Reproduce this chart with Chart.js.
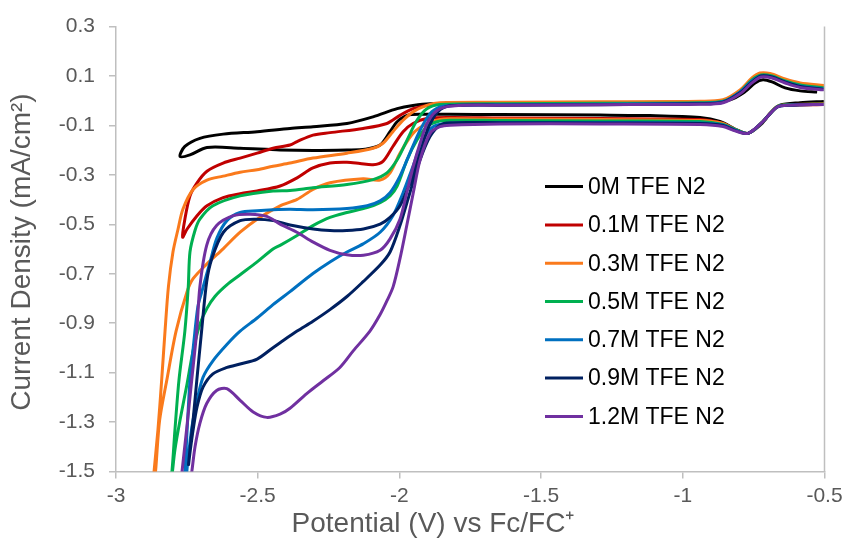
<!DOCTYPE html>
<html><head><meta charset="utf-8">
<script src="https://cdn.jsdelivr.net/npm/chart.js@4.4.0/dist/chart.umd.min.js"></script>
<style>html,body{margin:0;padding:0;background:#fff;}#wrap{width:852px;height:547px;}</style>
</head><body><div id="wrap"><canvas id="c" width="852" height="547"></canvas></div>
<script>
const seriesLabels = ['0M TFE N2','0.1M TFE N2','0.3M TFE N2','0.5M TFE N2','0.7M TFE N2','0.9M TFE N2','1.2M TFE N2'];
const seriesColors = ['#000000','#C00000','#FA7A1C','#00B050','#0070C0','#002060','#7030A0'];
const xTicks = [-3,-2.5,-2,-1.5,-1,-0.5];
const xTickLabels = ['-3','-2.5','-2','-1.5','-1','-0.5'];
const yTicks = [-1.5,-1.3,-1.1,-0.9,-0.7,-0.5,-0.3,-0.1,0.1,0.3];
const yTickLabels = ['-1.5','-1.3','-1.1','-0.9','-0.7','-0.5','-0.3','-0.1','0.1','0.3'];
const xAxisTitle = 'Potential (V) vs Fc/FC\u207A';
const yAxisTitle = 'Current Density (mA/cm\u00B2)';

const potential_0M = [-0.502,-0.586,-0.657,-0.692,-0.728,-0.770,-0.805,-0.869,-0.939,-1.116,-1.292,-1.645,-1.821,-1.917,-1.973,-2.008,-2.033,-2.068,-2.121,-2.185,-2.305,-2.421,-2.562,-2.679,-2.739,-2.774,
  -2.757,-2.704,-2.622,-2.502,-2.386,-2.305,-2.185,-2.093,-2.008,-1.952,-1.892,-1.645,-1.292,-0.939,-0.833,-0.781,-0.745,-0.717,-0.685,-0.639,-0.586,-0.526];
const current_0M = [-0.003,-0.008,-0.018,-0.052,-0.100,-0.132,-0.120,-0.084,-0.068,-0.060,-0.058,-0.056,-0.055,-0.055,-0.059,-0.085,-0.125,-0.179,-0.196,-0.199,-0.201,-0.199,-0.192,-0.189,-0.219,-0.225,
  -0.185,-0.152,-0.135,-0.125,-0.112,-0.105,-0.092,-0.065,-0.032,-0.019,-0.012,-0.010,-0.008,-0.006,0.004,0.036,0.072,0.085,0.076,0.052,0.040,0.035];

const potential_01M = [-0.502,-0.622,-0.668,-0.717,-0.770,-0.816,-0.858,-0.939,-1.292,-1.645,-1.821,-1.903,-1.952,-1.987,-2.023,-2.058,-2.093,-2.139,-2.185,-2.245,-2.305,-2.361,-2.421,-2.502,-2.562,-2.622,-2.679,-2.714,-2.749,-2.765,
  -2.757,-2.739,-2.714,-2.679,-2.622,-2.562,-2.502,-2.446,-2.386,-2.361,-2.305,-2.245,-2.128,-2.044,-1.998,-1.952,-1.903,-1.857,-1.645,-1.292,-0.939,-0.858,-0.798,-0.763,-0.728,-0.692,-0.668,-0.597,-0.502];
const current_01M = [-0.015,-0.018,-0.024,-0.084,-0.132,-0.116,-0.092,-0.076,-0.072,-0.070,-0.068,-0.072,-0.092,-0.125,-0.185,-0.245,-0.259,-0.254,-0.249,-0.252,-0.272,-0.312,-0.345,-0.365,-0.376,-0.392,-0.425,-0.465,-0.519,-0.552,
  -0.479,-0.385,-0.332,-0.285,-0.252,-0.232,-0.212,-0.192,-0.179,-0.165,-0.139,-0.129,-0.112,-0.092,-0.059,-0.032,-0.019,-0.012,-0.010,-0.008,-0.004,0.000,0.036,0.080,0.106,0.100,0.088,0.068,0.056];

const potential_03M = [-0.502,-0.622,-0.668,-0.717,-0.770,-0.816,-0.858,-0.939,-1.292,-1.645,-1.821,-1.857,-1.903,-1.952,-1.998,-2.033,-2.068,-2.128,-2.245,-2.305,-2.361,-2.421,-2.502,-2.562,-2.622,-2.679,-2.728,-2.749,-2.788,-2.821,-2.846,-2.859,-2.866,-2.870,
  -2.871,-2.866,-2.852,-2.839,-2.827,-2.815,-2.799,-2.781,-2.764,-2.728,-2.679,-2.622,-2.562,-2.502,-2.446,-2.386,-2.305,-2.185,-2.093,-2.058,-2.023,-1.987,-1.952,-1.903,-1.857,-1.645,-1.292,-0.939,-0.858,-0.798,-0.756,-0.728,-0.692,-0.639,-0.586,-0.502];
const current_03M = [-0.012,-0.016,-0.024,-0.084,-0.132,-0.116,-0.092,-0.080,-0.076,-0.074,-0.073,-0.076,-0.092,-0.132,-0.212,-0.292,-0.321,-0.316,-0.332,-0.359,-0.399,-0.425,-0.479,-0.532,-0.599,-0.660,-0.720,-0.772,-0.932,-1.132,-1.292,-1.480,-1.572,-1.650,
  -1.590,-1.504,-1.332,-1.132,-0.932,-0.752,-0.612,-0.519,-0.439,-0.359,-0.321,-0.305,-0.289,-0.279,-0.265,-0.252,-0.232,-0.212,-0.192,-0.172,-0.125,-0.079,-0.045,-0.019,-0.008,-0.006,-0.004,-0.002,0.004,0.044,0.092,0.112,0.110,0.088,0.072,0.062];

const potential_05M = [-0.502,-0.622,-0.668,-0.717,-0.770,-0.816,-0.858,-0.939,-1.292,-1.645,-1.821,-1.867,-1.903,-1.938,-1.973,-2.008,-2.033,-2.068,-2.114,-2.185,-2.245,-2.305,-2.361,-2.421,-2.446,-2.502,-2.562,-2.608,-2.651,-2.679,-2.704,-2.728,-2.749,-2.774,-2.792,-2.802,-2.813,
  -2.809,-2.802,-2.792,-2.778,-2.757,-2.745,-2.739,-2.721,-2.704,-2.658,-2.562,-2.446,-2.386,-2.305,-2.185,-2.093,-2.044,-2.008,-1.973,-1.938,-1.903,-1.857,-1.645,-1.292,-0.939,-0.858,-0.798,-0.756,-0.724,-0.685,-0.639,-0.586,-0.502];
const current_05M = [-0.014,-0.016,-0.024,-0.084,-0.132,-0.116,-0.096,-0.084,-0.082,-0.080,-0.079,-0.085,-0.105,-0.159,-0.239,-0.345,-0.385,-0.412,-0.432,-0.452,-0.472,-0.505,-0.545,-0.585,-0.600,-0.652,-0.704,-0.744,-0.792,-0.840,-0.904,-1.012,-1.144,-1.292,-1.412,-1.512,-1.612,
  -1.552,-1.492,-1.332,-1.132,-0.932,-0.752,-0.612,-0.524,-0.479,-0.425,-0.385,-0.365,-0.363,-0.352,-0.339,-0.319,-0.292,-0.239,-0.159,-0.079,-0.032,-0.015,-0.012,-0.010,-0.008,-0.002,0.036,0.084,0.104,0.100,0.080,0.064,0.052];

const potential_07M = [-0.502,-0.622,-0.668,-0.717,-0.770,-0.816,-0.858,-0.939,-1.292,-1.645,-1.832,-1.881,-1.917,-1.952,-1.987,-2.023,-2.068,-2.128,-2.185,-2.245,-2.305,-2.386,-2.446,-2.502,-2.562,-2.608,-2.658,-2.693,-2.714,-2.732,-2.746,-2.751,-2.757,
  -2.760,-2.757,-2.749,-2.739,-2.725,-2.711,-2.697,-2.668,-2.644,-2.608,-2.562,-2.502,-2.446,-2.386,-2.305,-2.185,-2.114,-2.068,-2.033,-1.998,-1.963,-1.927,-1.892,-1.857,-1.821,-1.645,-1.292,-0.939,-0.858,-0.798,-0.756,-0.724,-0.685,-0.639,-0.586,-0.502];
const current_07M = [-0.015,-0.018,-0.026,-0.084,-0.132,-0.118,-0.098,-0.090,-0.088,-0.088,-0.092,-0.105,-0.159,-0.265,-0.372,-0.465,-0.532,-0.579,-0.612,-0.652,-0.699,-0.772,-0.825,-0.879,-0.932,-0.985,-1.052,-1.119,-1.212,-1.319,-1.452,-1.512,-1.592,
  -1.532,-1.500,-1.332,-1.132,-0.972,-0.832,-0.772,-0.652,-0.556,-0.484,-0.452,-0.445,-0.441,-0.439,-0.441,-0.436,-0.425,-0.405,-0.372,-0.305,-0.212,-0.119,-0.052,-0.025,-0.019,-0.016,-0.014,-0.010,-0.004,0.036,0.080,0.100,0.096,0.076,0.060,0.048];

const potential_09M = [-0.502,-0.622,-0.668,-0.717,-0.770,-0.816,-0.858,-0.939,-1.292,-1.645,-1.821,-1.857,-1.892,-1.927,-1.963,-1.998,-2.033,-2.068,-2.128,-2.185,-2.245,-2.305,-2.361,-2.421,-2.446,-2.502,-2.562,-2.608,-2.658,-2.693,-2.714,-2.728,-2.739,-2.744,
  -2.739,-2.728,-2.715,-2.698,-2.680,-2.662,-2.621,-2.562,-2.504,-2.445,-2.386,-2.304,-2.245,-2.186,-2.127,-2.068,-2.033,-1.998,-1.963,-1.927,-1.899,-1.864,-1.821,-1.645,-1.292,-0.939,-0.858,-0.798,-0.756,-0.724,-0.685,-0.639,-0.586,-0.502];
const current_09M = [-0.015,-0.018,-0.026,-0.084,-0.132,-0.120,-0.100,-0.092,-0.090,-0.089,-0.089,-0.099,-0.145,-0.239,-0.372,-0.505,-0.612,-0.665,-0.732,-0.792,-0.845,-0.892,-0.932,-0.979,-0.999,-1.045,-1.065,-1.079,-1.105,-1.159,-1.239,-1.332,-1.424,-1.472,
  -1.412,-1.292,-1.132,-0.932,-0.732,-0.639,-0.532,-0.485,-0.479,-0.485,-0.503,-0.519,-0.525,-0.525,-0.519,-0.499,-0.472,-0.425,-0.332,-0.212,-0.112,-0.044,-0.020,-0.018,-0.016,-0.012,-0.006,0.032,0.076,0.100,0.096,0.076,0.058,0.046];

const potential_12M = [-0.502,-0.622,-0.668,-0.717,-0.770,-0.816,-0.858,-0.939,-1.292,-1.645,-1.821,-1.857,-1.892,-1.927,-1.951,-1.974,-1.998,-2.022,-2.045,-2.068,-2.104,-2.163,-2.210,-2.268,-2.327,-2.386,-2.421,-2.468,-2.516,-2.562,-2.609,-2.645,-2.680,-2.704,-2.721,-2.733,-2.742,-2.757,
  -2.771,-2.767,-2.751,-2.733,-2.715,-2.704,-2.680,-2.645,-2.586,-2.527,-2.468,-2.421,-2.362,-2.304,-2.245,-2.186,-2.127,-2.068,-2.033,-1.998,-1.974,-1.951,-1.927,-1.899,-1.857,-1.786,-1.645,-1.292,-0.939,-0.858,-0.798,-0.756,-0.724,-0.685,-0.639,-0.586,-0.502];
const current_12M = [-0.015,-0.018,-0.026,-0.084,-0.132,-0.122,-0.104,-0.096,-0.094,-0.094,-0.099,-0.105,-0.132,-0.239,-0.372,-0.505,-0.639,-0.752,-0.812,-0.865,-0.932,-1.012,-1.079,-1.132,-1.185,-1.244,-1.268,-1.281,-1.259,-1.212,-1.165,-1.172,-1.225,-1.305,-1.399,-1.505,-1.572,-1.600,
  -1.552,-1.500,-1.332,-1.132,-0.932,-0.752,-0.585,-0.505,-0.465,-0.459,-0.468,-0.499,-0.532,-0.572,-0.605,-0.623,-0.625,-0.605,-0.559,-0.479,-0.372,-0.265,-0.172,-0.084,-0.032,-0.019,-0.018,-0.016,-0.014,-0.008,0.028,0.072,0.096,0.092,0.072,0.054,0.044];

const potentials = [potential_0M, potential_01M, potential_03M, potential_05M, potential_07M, potential_09M, potential_12M];
const currents = [current_0M, current_01M, current_03M, current_05M, current_07M, current_09M, current_12M];

const datasets = seriesLabels.map((lab, i) => ({
  label: lab,
  data: potentials[i].map((x, k) => ({x: x, y: currents[i][k]})),
  showLine: true,
  borderColor: seriesColors[i],
  backgroundColor: seriesColors[i],
  borderWidth: 3,
  pointRadius: 0,
  tension: 0.3,
  fill: false,
  order: seriesLabels.length - i
}));

const FONT = '"Liberation Sans", Arial, sans-serif';

const frameAndLegend = {
  id: 'frameAndLegend',
  afterDatasetsDraw(chart) {
    const ctx = chart.ctx, ca = chart.chartArea;
    ctx.save();
    ctx.strokeStyle = '#BFBFBF';
    ctx.lineWidth = 1.5;
    ctx.beginPath();
    ctx.moveTo(ca.right, ca.top);
    ctx.lineTo(ca.right, ca.bottom);
    ctx.stroke();
    const lx = ca.left + 429, ly = ca.top + 160, step = 38.3;
    ctx.font = '23px ' + FONT;
    ctx.textBaseline = 'middle';
    ctx.textAlign = 'left';
    seriesLabels.forEach((lab, i) => {
      const y = ly + i * step;
      ctx.strokeStyle = seriesColors[i];
      ctx.lineWidth = 3;
      ctx.beginPath();
      ctx.moveTo(lx, y);
      ctx.lineTo(lx + 38, y);
      ctx.stroke();
      ctx.fillStyle = '#000000';
      ctx.fillText(lab, lx + 43, y + 1);
    });
    // axis titles
    ctx.fillStyle = '#595959';
    ctx.font = '28px ' + FONT;
    ctx.textAlign = 'center';
    ctx.textBaseline = 'middle';
    ctx.fillText(xAxisTitle, ca.left + 317, ca.bottom + 53);
    ctx.translate(22, (ca.top + ca.bottom) / 2 + 3);
    ctx.rotate(-Math.PI / 2);
    ctx.fillText(yAxisTitle, 0, 0);
    ctx.restore();
  }
};

new Chart(document.getElementById('c'), {
  type: 'scatter',
  data: { datasets },
  options: {
    responsive: false,
    devicePixelRatio: 1,
    animation: false,
    layout: { padding: { top: 22, right: 27.5, left: 0, bottom: 0 } },
    plugins: { legend: { display: false }, tooltip: { enabled: false } },
    scales: {
      x: {
        type: 'linear', position: 'bottom', min: -3, max: -0.5,
        afterBuildTicks: s => { s.ticks = xTicks.map(v => ({ value: v })); },
        afterFit: s => { s.height = 75.5; },
        ticks: { callback: (v, i) => xTickLabels[i], color: '#595959', font: { family: FONT, size: 21 }, padding: 5, maxRotation: 0 },
        grid: { drawOnChartArea: false, drawTicks: true, tickLength: 7, color: '#BFBFBF', lineWidth: 1.5 },
        border: { display: true, color: '#BFBFBF', width: 1.5 },
        title: { display: false }
      },
      y: {
        type: 'linear', position: 'left', min: -1.5, max: 0.3,
        afterBuildTicks: s => { s.ticks = yTicks.map(v => ({ value: v })); },
        afterFit: s => { s.width = 116; },
        ticks: { callback: (v, i) => yTickLabels[i], color: '#595959', font: { family: FONT, size: 21 }, padding: 14 },
        grid: { drawOnChartArea: false, drawTicks: true, tickLength: 7, color: '#BFBFBF', lineWidth: 1.5 },
        border: { display: true, color: '#BFBFBF', width: 1.5 },
        title: { display: false }
      }
    }
  },
  plugins: [frameAndLegend]
});
</script>
</body></html>
